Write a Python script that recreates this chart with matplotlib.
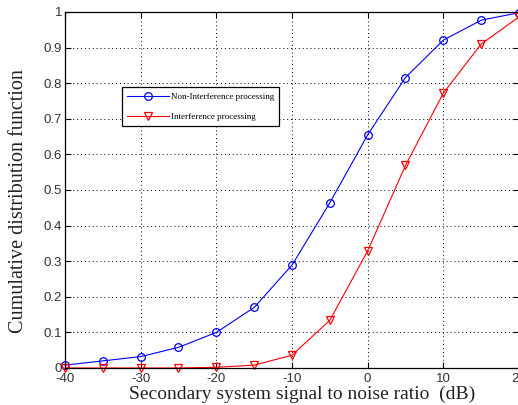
import numpy as np
import matplotlib
matplotlib.use("Agg")
import matplotlib.pyplot as plt

plt.rcParams["axes.unicode_minus"] = False

# SNR (dB) and CDF values
snr = [-40, -35, -30, -25, -20, -15, -10, -5, 0, 5, 10, 15, 20]
cdf_non = [0.008, 0.02, 0.032, 0.058, 0.10, 0.17, 0.289, 0.464, 0.655, 0.816, 0.921, 0.977, 0.998]
cdf_int = [0.0, 0.0, 0.0, 0.0, 0.002, 0.008, 0.036, 0.134, 0.329, 0.569, 0.772, 0.910, 0.986]
labels = ["Non-Interference processing", "Interference processing"]
xticks = [-40, -30, -20, -10, 0, 10, 20]
yticks = [0, 0.1, 0.2, 0.3, 0.4, 0.5, 0.6, 0.7, 0.8, 0.9, 1]
ytick_labels = ["0", "0.1", "0.2", "0.3", "0.4", "0.5", "0.6", "0.7", "0.8", "0.9", "1"]

W, H = 518, 405
fig = plt.figure(figsize=(W / 100, H / 100), dpi=100)
ax = fig.add_axes([65 / W, 1 - 368 / H, 454 / W, 356 / H])

ax.plot(snr, cdf_non, color="blue", lw=0.8, marker="o", ms=5.5,
        mfc="none", mec="blue", mew=0.9, label=labels[0], clip_on=False)
ax.plot(snr, cdf_int, color="red", lw=0.8, marker="v", ms=6,
        mfc="none", mec="red", mew=0.9, label=labels[1], clip_on=False)

ax.set_xlim(-40, 20)
ax.set_ylim(0, 1)
ax.set_xticks(xticks)
ax.set_yticks(yticks)
ax.set_yticklabels(ytick_labels)
ax.grid(True, color="black", linestyle=(0, (1, 3)), linewidth=0.7)
ax.tick_params(direction="in", length=4, top=True, right=True,
               labelsize=9.5, colors="black")
ax.tick_params(axis="x", pad=3.5)
ax.tick_params(axis="y", pad=2)
for lab in ax.get_xticklabels() + ax.get_yticklabels():
    lab.set_family("Liberation Sans")
    lab.set_color("#333333")
for s in ax.spines.values():
    s.set_linewidth(0.9)

ax.set_xlabel("Secondary system signal to noise ratio  (dB)",
              family="Liberation Serif", fontsize=14, color="#222222")
ax.xaxis.set_label_coords(0.522, -(386 - 368) / 356)
ax.set_ylabel("Cumulative distribution function",
              family="Liberation Serif", fontsize=14.5, color="#222222")
ax.yaxis.set_label_coords(-(65 - 28) / 454, 0.469)

leg = ax.legend(loc="upper left", bbox_to_anchor=(0.1256, 0.789),
                prop={"family": "Liberation Serif", "size": 6.5},
                frameon=True, fancybox=False, edgecolor="black",
                framealpha=1, handlelength=4.6, labelspacing=1.3,
                borderpad=0.6, handletextpad=0.2, borderaxespad=0)
leg.get_frame().set_linewidth(0.9)

fig.savefig("out.png", dpi=100)
